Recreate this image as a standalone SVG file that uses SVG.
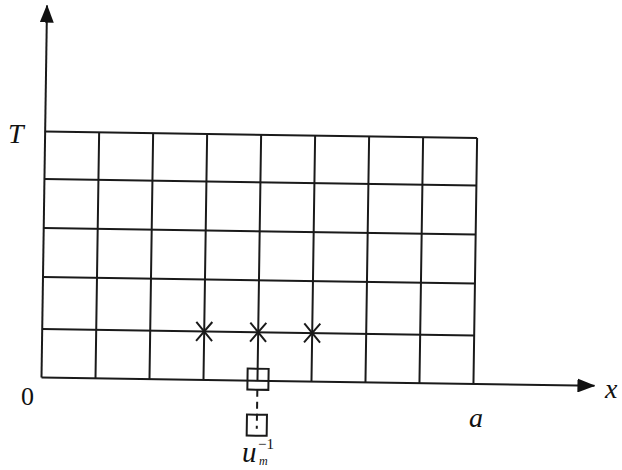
<svg xmlns="http://www.w3.org/2000/svg" width="622" height="470" viewBox="0 0 622 470">
<style>
.g{stroke:#1a1a1a;stroke-width:2;fill:none}
.t{font-family:"Liberation Serif",serif;fill:#111}
.i{font-style:italic}
</style>
<defs>
<marker id="ah" viewBox="0 0 18 14" refX="17" refY="7" markerWidth="18" markerHeight="14" markerUnits="userSpaceOnUse" orient="auto">
<path d="M0,0 L18,7 L0,14 Z" fill="#111"/>
</marker>
</defs>
<rect width="622" height="470" fill="#fff"/>
<g transform="translate(41.5,377.5) rotate(0.85)">
<g id="grid" class="g">
<path d="M0,-246 H432 M0,-198.5 H432 M0,-149.5 H432 M0,-100.5 H432 M0,-48.5 H432"/>
<path d="M54,0 V-246 M108,0 V-246 M162,0 V-246 M216,0 V-246 M270,0 V-246 M324,0 V-246 M378,0 V-246 M432,0 V-246"/>
</g>
<g id="axes" class="g">
<line x1="0" y1="0" x2="0" y2="-372" marker-end="url(#ah)"/>
<line x1="0" y1="0" x2="553" y2="0" marker-end="url(#ah)"/>
</g>
<g id="crosses" class="g" stroke-width="1.8">
<path d="M154,-58 L170,-39 M154,-39 L170,-58"/>
<path d="M208,-58 L224,-39 M208,-39 L224,-58"/>
<path d="M262,-58 L278,-39 M262,-39 L278,-58"/>
</g>
<g id="boxes" class="g">
<rect x="206" y="-12" width="21" height="21"/>
<line x1="216" y1="9" x2="216" y2="48" stroke-dasharray="7 5"/>
<rect x="206" y="34" width="20" height="21"/>
</g>
</g>
<g id="labels">
<text class="t i" x="8" y="143" font-size="28">T</text>
<text class="t" x="21" y="405" font-size="26">0</text>
<text class="t i" x="469" y="427" font-size="28">a</text>
<text class="t i" x="605" y="398" font-size="28">x</text>
<text class="t i" x="242" y="462" font-size="29">u</text>
<text class="t" x="258" y="449" font-size="15">−1</text>
<text class="t i" x="259" y="465" font-size="12">m</text>
</g>
</svg>
